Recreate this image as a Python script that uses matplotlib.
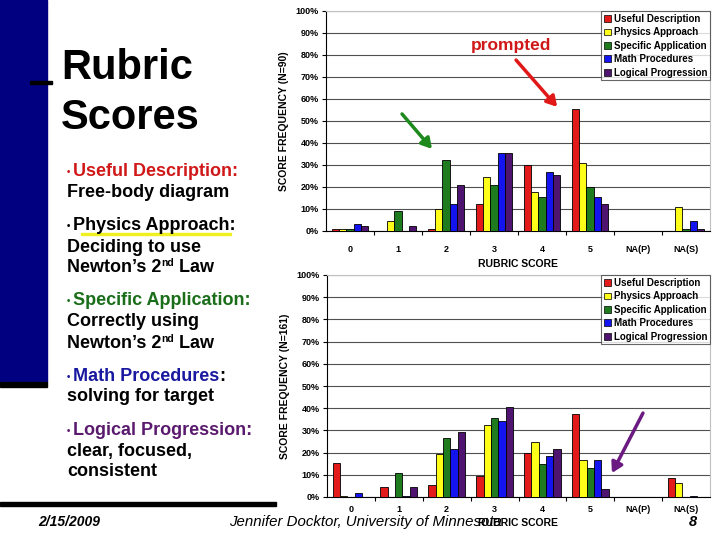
import numpy as np
import matplotlib
matplotlib.use('Agg')
import matplotlib.pyplot as plt
from matplotlib.patches import Rectangle

plt.rcParams['font.family'] = ['Liberation Sans', 'DejaVu Sans']

# data (percent of students)
cats = ['0', '1', '2', '3', '4', '5', 'NA(P)', 'NA(S)']
series = ['Useful Description', 'Physics Approach', 'Specific Application',
          'Math Procedures', 'Logical Progression']
colors = ['#E31A1A', '#FFFF1A', '#1E7B1E', '#1414F0', '#4E1470']

# prompted group, N=90
ud_90 = [1.1, 0, 1.1, 12.2, 30.0, 55.6, 0, 0]
pa_90 = [1.1, 4.4, 10.0, 24.4, 17.8, 31.1, 0, 11.1]
sa_90 = [1.1, 8.9, 32.2, 21.1, 15.6, 20.0, 0, 1.1]
mp_90 = [3.3, 0, 12.2, 35.6, 26.7, 15.6, 0, 4.4]
lp_90 = [2.2, 2.2, 21.1, 35.6, 25.6, 12.2, 0, 1.1]

# N=161
ud_161 = [15.5, 4.3, 5.6, 9.3, 19.9, 37.3, 0, 8.7]
pa_161 = [0.6, 0, 19.3, 32.3, 24.8, 16.8, 0, 6.2]
sa_161 = [0, 10.6, 26.7, 35.4, 14.9, 13.0, 0, 0]
mp_161 = [1.9, 0.6, 21.7, 34.2, 18.6, 16.8, 0, 0.6]
lp_161 = [0, 4.3, 29.2, 40.4, 21.7, 3.7, 0, 0]

W, H = 720, 540
fig = plt.figure(figsize=(7.2, 5.4), dpi=100)


def px_axes(l, t, r, b):
    return fig.add_axes([l / W, 1 - b / H, (r - l) / W, (b - t) / H])


def bar_chart(ax, data, ylab, tpad, lpad):
    x = np.arange(len(cats))
    bw = 0.154
    for i, (vals, c, name) in enumerate(zip(data, colors, series)):
        ax.bar(x + (i - 2) * bw, vals, bw, color=c, edgecolor='black',
               linewidth=0.6, label=name, zorder=3)
    ax.set_xlim(-0.5, len(cats) - 0.5)
    ax.set_ylim(0, 100)
    ax.set_yticks(np.arange(0, 101, 10))
    ax.set_yticklabels(['%d%%' % v for v in range(0, 101, 10)],
                       fontsize=6.5, fontweight='bold')
    ax.yaxis.grid(True, color='#505050', linewidth=0.8, zorder=0)
    ax.set_xticks(x)
    ax.set_xticklabels(cats, fontsize=6.5, fontweight='bold')
    ax.set_xticks(np.arange(0.5, len(cats) - 0.5, 1), minor=True)
    ax.tick_params(axis='x', which='major', length=0, pad=tpad)
    ax.tick_params(axis='x', which='minor', length=3, width=0.8)
    ax.tick_params(axis='y', length=3, width=0.8, pad=2)
    for s in ['top', 'right']:
        ax.spines[s].set_color('#c0c0c0')
    ax.spines['left'].set_linewidth(0.8)
    ax.spines['bottom'].set_linewidth(0.8)
    ax.set_ylabel(ylab, fontsize=7.5, fontweight='bold', labelpad=5)
    ax.set_xlabel('RUBRIC SCORE', fontsize=7.5, fontweight='bold', labelpad=lpad)
    leg = ax.legend(loc='upper right', bbox_to_anchor=(1.0, 1.0),
                    prop={'weight': 'bold', 'size': 7}, frameon=True,
                    fancybox=False, borderpad=0.3, labelspacing=0.35,
                    handlelength=0.7, handleheight=0.7, handletextpad=0.3,
                    borderaxespad=0)
    leg.get_frame().set_edgecolor('#404040')
    leg.get_frame().set_linewidth(0.8)
    for h in leg.legend_handles:
        h.set_linewidth(0.5)


ax1 = px_axes(326, 11, 710, 231)
bar_chart(ax1, [ud_90, pa_90, sa_90, mp_90, lp_90], 'SCORE FREQUENCY (N=90)', 10, 4)
ax2 = px_axes(327, 275, 710, 497)
bar_chart(ax2, [ud_161, pa_161, sa_161, mp_161, lp_161], 'SCORE FREQUENCY (N=161)', 6, 3)

# annotations
ax1.text(0.482, 0.845, 'prompted', transform=ax1.transAxes, color='#D01818',
         fontsize=12.5, fontweight='bold', ha='center', va='center', zorder=5)
arrow = dict(arrowstyle='-|>,head_length=0.6,head_width=0.35', lw=2.5,
             shrinkA=0, shrinkB=0)
ax1.annotate('', xy=(0.276, 0.373), xytext=(0.198, 0.532), xycoords='axes fraction',
             arrowprops=dict(arrow, color='#1E8A1E'), zorder=5)
ax1.annotate('', xy=(0.602, 0.564), xytext=(0.495, 0.777), xycoords='axes fraction',
             arrowprops=dict(arrow, color='#E01818'), zorder=5)
ax2.annotate('', xy=(0.744, 0.108), xytext=(0.825, 0.378), xycoords='axes fraction',
             arrowprops=dict(arrow, color='#6A1A80'), zorder=5)

# left slide decoration
fig.patches.append(Rectangle((0, 1 - 382 / H), 47 / W, 382 / H, transform=fig.transFigure,
                             color='#000080', zorder=0))
fig.patches.append(Rectangle((0, 1 - 387 / H), 47 / W, 5 / H, transform=fig.transFigure,
                             color='black', zorder=0))
fig.patches.append(Rectangle((30 / W, 1 - 84 / H), 22 / W, 3 / H, transform=fig.transFigure,
                             color='black', zorder=1))
fig.patches.append(Rectangle((0, 1 - 506 / H), 276 / W, 4 / H, transform=fig.transFigure,
                             color='black', zorder=0))
fig.patches.append(Rectangle((81 / W, 1 - 235 / H), 150 / W, 2 / H, transform=fig.transFigure,
                             color='#F0F020', zorder=1))

fig.text(61 / W, 1 - 68 / H, 'Rubric', fontsize=30, fontweight='bold', va='center')
fig.text(61 / W, 1 - 118 / H, 'Scores', fontsize=30, fontweight='bold', va='center')

renderer = fig.canvas.get_renderer()


def put_line(x, y, parts):
    # parts: (text, color, size, rise)
    for s, c, size, rise in parts:
        t = fig.text(x / W, 1 - (y - rise) / H, s, color=c, fontsize=size,
                     fontweight='bold', va='baseline')
        x += t.get_window_extent(renderer).width


fs = 13
k = 'black'
red, grn, blu, pur = '#D01818', '#1A6E1A', '#1818A0', '#5A1A6E'
put_line(67, 176, [('\u2022 ', red, 7, 1), ('Useful Description:', red, fs, 0)])
put_line(67, 197, [('Free-body diagram', k, fs, 0)])
put_line(67, 230, [('\u2022 ', k, 7, 1), ('Physics Approach:', k, fs, 0)])
put_line(67, 252, [('Deciding to use', k, fs, 0)])
put_line(67, 272, [('Newton\u2019s 2', k, fs, 0), ('nd', k, 7.5, 6), (' Law', k, fs, 0)])
put_line(67, 305, [('\u2022 ', grn, 7, 1), ('Specific Application:', grn, fs, 0)])
put_line(67, 326, [('Correctly using', k, fs, 0)])
put_line(67, 348, [('Newton\u2019s 2', k, fs, 0), ('nd', k, 7.5, 6), (' Law', k, fs, 0)])
put_line(67, 381, [('\u2022 ', blu, 7, 1), ('Math Procedures', blu, fs, 0), (':', k, fs, 0)])
put_line(67, 401, [('solving for target', k, fs, 0)])
put_line(67, 435, [('\u2022 ', pur, 7, 1), ('Logical Progression:', pur, fs, 0)])
put_line(67, 456, [('clear, focused,', k, fs, 0)])
put_line(67, 476, [('consistent', k, fs, 0)])

# footer
fig.text(38 / W, 1 - 522 / H, '2/15/2009', fontsize=10, fontweight='bold',
         style='italic', va='center')
fig.text(229 / W, 1 - 522 / H, 'Jennifer Docktor, University of Minnesota',
         fontsize=10.8, style='italic', va='center', zorder=10)
fig.text(693 / W, 1 - 522 / H, '8', fontsize=10.5, fontweight='bold',
         style='italic', ha='center', va='center')

fig.savefig('out.png', dpi=100)
